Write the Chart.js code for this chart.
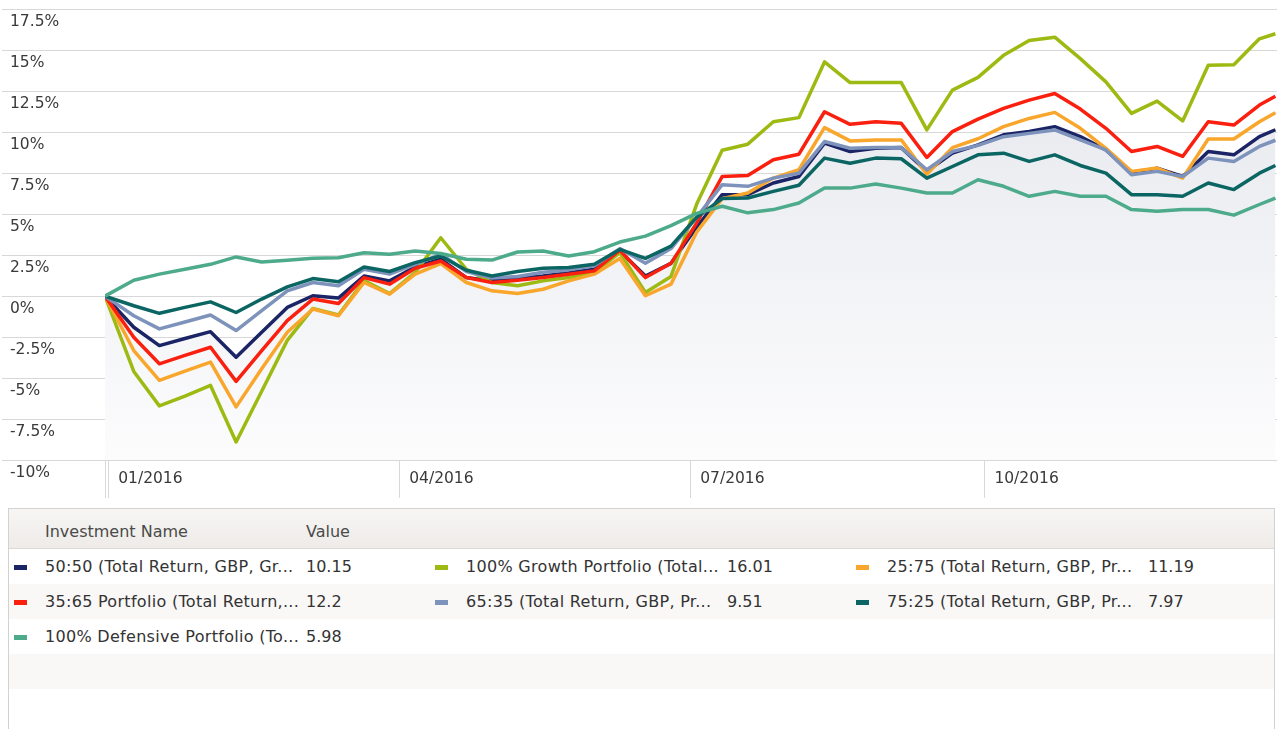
<!DOCTYPE html>
<html>
<head>
<meta charset="utf-8">
<title>Portfolio performance 2016</title>
<script src="https://cdn.jsdelivr.net/npm/chart.js@4.4.0/dist/chart.umd.min.js"></script>
<style>
  body { margin: 0; background: #fff; font-family: "DejaVu Sans", Verdana, sans-serif; color: #333; }
  #chartBox { position: relative; width: 1277px; height: 500px; }
  #legendPanel { position: absolute; left: 8px; top: 508px; width: 1267px; height: 230px; border: 1px solid #d2d2d2; border-bottom: none; box-sizing: border-box; font-size: 16px; }
  .legendHead { position: relative; height: 39px; background: linear-gradient(#f7f6f4, #eeebe8); border-bottom: 1px solid #dcd8d4; color: #4a4a4a; }
  .legendHead span { position: absolute; top: 5px; line-height: 35px; }
  .legendRow { position: relative; height: 35px; }
  .legendRow.shade { background: #f9f8f7; }
  .entry { position: absolute; top: 0; height: 35px; width: 421px; }
  .entry .mark { position: absolute; left: 0; top: 16px; width: 13px; height: 5px; }
  .entry .name { position: absolute; left: 31px; line-height: 36px; white-space: nowrap; letter-spacing: 0.3px; }
  .entry .value { position: absolute; left: 292px; line-height: 36px; }
</style>
</head>
<body>
<div id="chartBox"><canvas id="returnsChart"></canvas></div>
<div id="legendPanel">
  <div class="legendHead"><span style="left:36px">Investment Name</span><span style="left:297px">Value</span></div>
  <div id="legendRows"></div>
</div>
<script>
// x positions: day of 2016 for each observation
const days = [-1, 8, 16, 24, 32, 40, 48, 56, 64, 72, 80, 88, 96, 104, 112, 120, 128, 136, 144, 152, 160, 168, 176, 184,
    192, 200, 208, 216, 224, 232, 240, 248, 256, 264, 272, 280, 288, 296, 304, 312, 320, 328, 336, 344, 352, 360, 365];

const fiftyFifty = [0, -1.9, -3.02, -2.59, -2.17, -3.73, -2.21, -0.69, 0.02, -0.12, 1.23, 0.93, 1.78, 2.25, 1.13, 0.93, 1.07, 1.23, 1.43, 1.64, 2.75, 1.23, 2.0, 4.2,
    6.19, 6.19, 6.9, 7.3, 9.33, 8.82, 9.02, 9.06, 7.61, 8.72, 9.23, 9.84, 10.04, 10.34, 9.73, 8.92, 7.5, 7.81, 7.3, 8.82, 8.62, 9.73, 10.15];
const growth = [0, -4.6, -6.7, -6.1, -5.45, -8.9, -5.8, -2.7, -0.75, -1.15, 0.95, 0.15, 1.45, 3.56, 1.64, 0.83, 0.63, 0.93, 1.13, 1.43, 2.65, 0.22, 1.2, 5.6,
    8.9, 9.27, 10.64, 10.89, 14.29, 13.03, 13.03, 13.03, 10.14, 12.57, 13.35, 14.69, 15.6, 15.8, 14.49, 13.07, 11.15, 11.9, 10.69, 14.09, 14.12, 15.7, 16.01];
const twentyFive = [0, -3.32, -5.14, -4.58, -4.03, -6.76, -4.43, -2.21, -0.79, -1.2, 0.83, 0.12, 1.34, 1.98, 0.83, 0.32, 0.16, 0.42, 0.93, 1.34, 2.3, 0.02, 0.73, 3.9,
    5.95, 6.29, 7.2, 7.71, 10.28, 9.47, 9.53, 9.53, 7.44, 9.06, 9.6, 10.34, 10.84, 11.21, 10.24, 9.02, 7.61, 7.81, 7.2, 9.59, 9.59, 10.64, 11.19];
const thirtyFive = [0, -2.51, -4.13, -3.62, -3.12, -5.2, -3.32, -1.5, -0.18, -0.45, 1.13, 0.73, 1.7, 2.14, 1.13, 0.83, 0.97, 1.13, 1.34, 1.54, 2.8, 1.13, 2.0, 4.45,
    7.3, 7.36, 8.32, 8.66, 11.25, 10.48, 10.64, 10.54, 8.46, 10.04, 10.8, 11.45, 11.96, 12.36, 11.41, 10.24, 8.82, 9.13, 8.52, 10.64, 10.44, 11.66, 12.2];
const sixtyFive = [0, -1.2, -2.0, -1.58, -1.15, -2.1, -0.89, 0.32, 0.83, 0.63, 1.64, 1.34, 1.94, 2.55, 1.5, 1.1, 1.2, 1.45, 1.6, 1.85, 2.9, 2.0, 2.9, 4.8,
    6.8, 6.7, 7.2, 7.5, 9.43, 9.02, 9.06, 9.06, 7.71, 8.82, 9.2, 9.73, 9.93, 10.14, 9.53, 8.92, 7.41, 7.61, 7.3, 8.42, 8.22, 9.13, 9.51];
const seventyFive = [0, -0.59, -1.05, -0.69, -0.35, -1.0, -0.18, 0.56, 1.07, 0.87, 1.78, 1.5, 2.04, 2.45, 1.58, 1.23, 1.5, 1.7, 1.74, 1.94, 2.85, 2.3, 3.05, 4.8,
    5.95, 5.99, 6.39, 6.76, 8.42, 8.11, 8.42, 8.38, 7.2, 7.91, 8.62, 8.72, 8.22, 8.62, 7.97, 7.5, 6.19, 6.19, 6.09, 6.9, 6.5, 7.5, 7.97];
const defensive = [0, 0.97, 1.34, 1.64, 1.94, 2.39, 2.08, 2.19, 2.31, 2.34, 2.65, 2.55, 2.75, 2.6, 2.25, 2.2, 2.69, 2.75, 2.45, 2.71, 3.3, 3.66, 4.3, 5.05,
    5.48, 5.08, 5.28, 5.68, 6.59, 6.59, 6.84, 6.59, 6.29, 6.29, 7.1, 6.7, 6.09, 6.39, 6.09, 6.09, 5.28, 5.18, 5.28, 5.28, 4.94, 5.59, 5.98];

const seriesNames = ['50:50 (Total Return, GBP, Gr...', '100% Growth Portfolio (Total...', '25:75 (Total Return, GBP, Pr...',
    '35:65 Portfolio (Total Return,...', '65:35 (Total Return, GBP, Pr...', '75:25 (Total Return, GBP, Pr...', '100% Defensive Portfolio (To...'];
const seriesValues = [fiftyFifty, growth, twentyFive, thirtyFive, sixtyFive, seventyFive, defensive];
const seriesColors = ['#1b2566', '#9cba12', '#f9a62c', '#fa1f0e', '#7d93bc', '#0b6663', '#4dab8b'];

const tickDays = [-1, 0, 91, 182, 274];
const tickLabels = ['', '01/2016', '04/2016', '07/2016', '10/2016'];

const gridColor = '#d8d8d8';
const tickFont = { family: 'DejaVu Sans', size: 15.5 };

function areaFill(context) {
    const chart = context.chart;
    const area = chart.chartArea;
    if (!area) return 'rgba(0,0,0,0)';
    const g = chart.ctx.createLinearGradient(0, area.top, 0, area.bottom);
    g.addColorStop(0, '#e4e6ec');
    g.addColorStop(1, '#fcfcfd');
    return g;
}

const datasets = seriesNames.map((name, i) => ({
    label: name,
    data: seriesValues[i].map((v, k) => ({ x: days[k], y: v })),
    borderColor: seriesColors[i],
    backgroundColor: i === 0 ? areaFill : seriesColors[i],
    fill: i === 0 ? 'start' : false,
    borderWidth: 3.5,
    borderJoinStyle: 'round',
    pointRadius: 0,
    tension: 0,
    order: seriesNames.length - 1 - i // later series on top
}));

new Chart(document.getElementById('returnsChart').getContext('2d'), {
    type: 'line',
    data: { datasets: datasets },
    options: {
        responsive: true,
        maintainAspectRatio: false,
        animation: false,
        layout: { padding: { left: 10, top: 7, right: 0, bottom: 0 } },
        plugins: { legend: { display: false }, tooltip: { enabled: false } },
        scales: {
            x: {
                type: 'linear',
                min: -1,
                max: 365.5,
                afterBuildTicks: scale => { scale.ticks = tickDays.map(v => ({ value: v })); },
                afterFit: scale => { scale.height = 40; },
                border: { display: false },
                grid: { drawOnChartArea: false, tickLength: 38, color: gridColor },
                ticks: {
                    autoSkip: false, maxRotation: 0, align: 'start', labelOffset: 10, padding: -28,
                    color: '#3a3a3a', font: tickFont,
                    callback: (v, i) => tickLabels[i]
                }
            },
            y: {
                min: -10,
                max: 17.5,
                afterFit: scale => { scale.width = 95; },
                border: { display: false },
                grid: { color: gridColor, tickLength: 103 },
                ticks: {
                    stepSize: 2.5, autoSkip: false, crossAlign: 'far', labelOffset: 13, padding: 0,
                    color: '#3a3a3a', font: tickFont,
                    callback: v => (Math.round(v * 10) / 10) + '%'
                }
            }
        }
    }
});

// legend table under the chart, three entries per row
const rowsBox = document.getElementById('legendRows');
const rowCount = 5;
for (let r = 0; r < rowCount; r++) {
    const row = document.createElement('div');
    row.className = 'legendRow' + (r % 2 === 1 ? ' shade' : '');
    for (let c = 0; c < 3; c++) {
        const i = r * 3 + c;
        if (i >= seriesNames.length) break;
        const vals = seriesValues[i];
        const entry = document.createElement('div');
        entry.className = 'entry';
        entry.style.left = (5 + c * 421) + 'px';
        entry.innerHTML = '<div class="mark" style="background:' + seriesColors[i] + '"></div>' +
            '<span class="name">' + seriesNames[i] + '</span>' +
            '<span class="value">' + vals[vals.length - 1] + '</span>';
        row.appendChild(entry);
    }
    rowsBox.appendChild(row);
}
</script>
</body>
</html>
